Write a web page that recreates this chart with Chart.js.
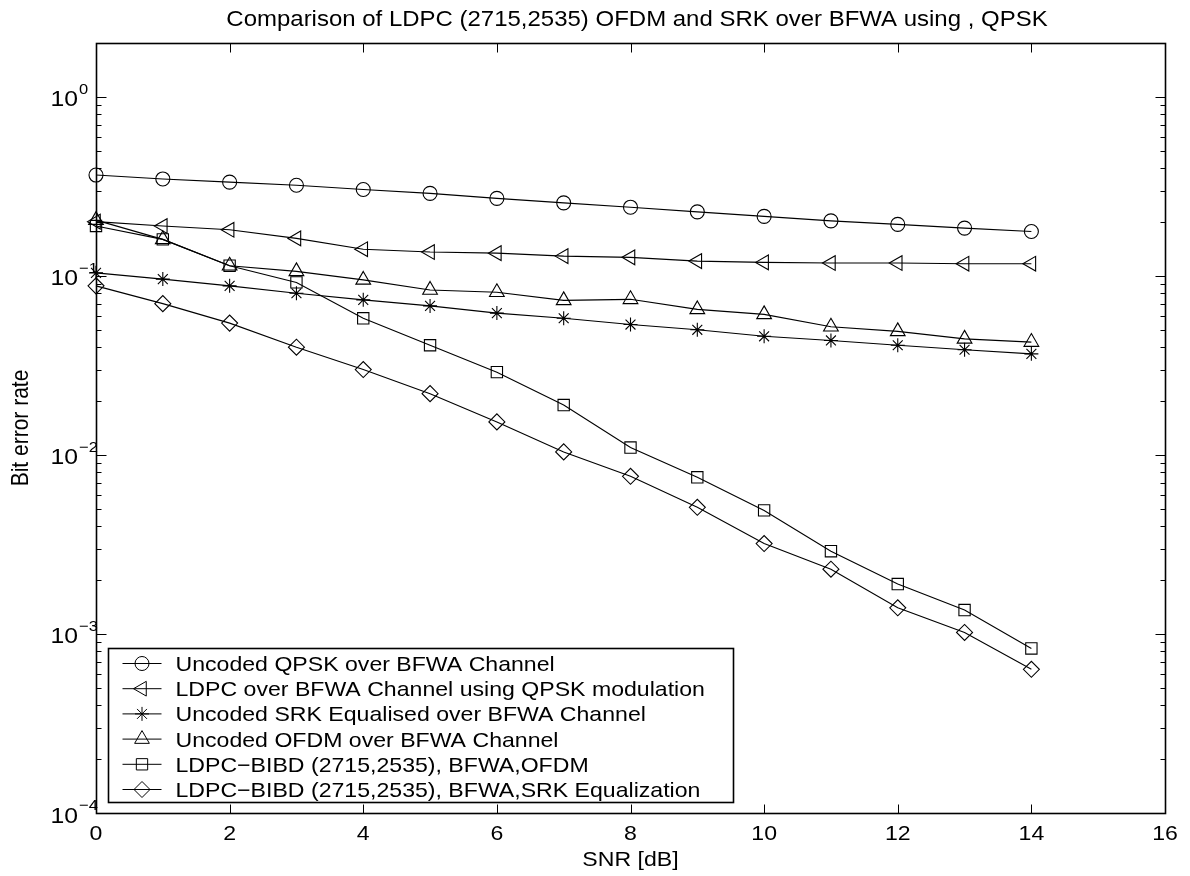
<!DOCTYPE html>
<html>
<head>
<meta charset="utf-8">
<title>Comparison of LDPC (2715,2535) OFDM and SRK over BFWA</title>
<script src="https://cdn.jsdelivr.net/npm/chart.js"></script>
<style>
    html, body { margin: 0; padding: 0; background: #fff; }
    canvas { display: block; }
</style>
</head>
<body>
<canvas id="myChart" width="1190" height="876"></canvas>
<script>
const snr = [0, 1, 2, 3, 4, 5, 6, 7, 8, 9, 10, 11, 12, 13, 14];

const uncoded_qpsk = [0.366, 0.348, 0.334, 0.321, 0.304, 0.289, 0.271, 0.256, 0.242, 0.228, 0.215, 0.203, 0.194, 0.185, 0.177];
const ldpc_qpsk = [0.201, 0.190, 0.181, 0.162, 0.141, 0.136, 0.134, 0.129, 0.127, 0.121, 0.119, 0.118, 0.118, 0.117, 0.117];
const uncoded_srk = [0.104, 0.096, 0.088, 0.080, 0.0735, 0.068, 0.062, 0.058, 0.0535, 0.050, 0.046, 0.0436, 0.041, 0.0387, 0.0367];
const uncoded_ofdm = [0.205, 0.160, 0.114, 0.106, 0.095, 0.0835, 0.081, 0.073, 0.074, 0.065, 0.061, 0.052, 0.049, 0.0445, 0.0427];
const ldpc_ofdm = [0.190, 0.160, 0.114, 0.092, 0.058, 0.041, 0.029, 0.019, 0.011, 0.0075, 0.0049, 0.0029, 0.0019, 0.00136, 0.00083];
const ldpc_srk = [0.088, 0.070, 0.0545, 0.040, 0.030, 0.022, 0.0153, 0.0104, 0.0076, 0.0051, 0.0032, 0.0023, 0.0014, 0.00102, 0.000635];

const series_labels = [
    'Uncoded QPSK over BFWA Channel',
    'LDPC over BFWA Channel using QPSK modulation',
    'Uncoded SRK Equalised over BFWA Channel',
    'Uncoded OFDM over BFWA Channel',
    'LDPC\u2212BIBD (2715,2535), BFWA,OFDM',
    'LDPC\u2212BIBD (2715,2535), BFWA,SRK Equalization'
];

const x_ticks = [0, 2, 4, 6, 8, 10, 12, 14, 16];
const y_ticks = [1e-4, 1e-3, 1e-2, 1e-1, 1];
const y_tick_exponents = ['\u22124', '\u22123', '\u22122', '\u22121', '0'];

const chart_title = 'Comparison of LDPC (2715,2535) OFDM and SRK over BFWA using , QPSK';
const x_title = 'SNR [dB]';
const y_title = 'Bit error rate';

const FONT = '"Liberation Sans", Arial, Helvetica, sans-serif';
const STRETCH = 1.1;

// text is drawn a little wider than tall, like the reference picture
function drawText(ctx, text, x, y, size, align, rotated) {
    ctx.save();
    ctx.translate(x, y);
    ctx.scale(STRETCH, 1);
    if (rotated) ctx.rotate(-Math.PI / 2);
    ctx.font = `${size}px ${FONT}`;
    ctx.textAlign = align;
    ctx.textBaseline = 'alphabetic';
    ctx.fillStyle = '#000';
    ctx.fillText(text, 0, 0);
    ctx.restore();
}

function textWidth(ctx, text, size) {
    ctx.save();
    ctx.font = `${size}px ${FONT}`;
    const w = ctx.measureText(text).width * STRETCH;
    ctx.restore();
    return w;
}

function drawMarker(ctx, ds, x, y) {
    ctx.save();
    ctx.strokeStyle = '#000';
    ctx.fillStyle = 'rgba(0,0,0,0)';
    ctx.lineWidth = 1;
    Chart.helpers.drawPoint(ctx, {
        pointStyle: ds.pointStyle,
        rotation: ds.pointRotation || 0,
        radius: ds.pointRadius,
        borderWidth: 1
    }, x, y);
    ctx.restore();
}

const matlabAxes = {
    id: 'matlabAxes',
    afterDatasetsDraw(chart) {
        const ctx = chart.ctx;
        const area = chart.chartArea;
        const xs = chart.scales.x;
        const ys = chart.scales.y;
        const L = Math.round(area.left) + 0.5;
        const R = Math.round(area.right) + 0.5;
        const T = Math.round(area.top) + 0.5;
        const B = Math.round(area.bottom) + 0.5;

        ctx.save();
        ctx.strokeStyle = '#000';

        // ticks pointing inwards
        ctx.lineWidth = 1;
        ctx.beginPath();
        x_ticks.forEach((v) => {
            const px = Math.round(xs.getPixelForValue(v)) + 0.5;
            ctx.moveTo(px, B); ctx.lineTo(px, B - 9);
            ctx.moveTo(px, T); ctx.lineTo(px, T + 9);
        });
        for (let d = -4; d <= 0; d++) {
            for (let k = 1; k <= 9; k++) {
                const v = k * Math.pow(10, d);
                if (v > ys.max || v < ys.min) continue;
                const py = Math.round(ys.getPixelForValue(v)) + 0.5;
                const len = k == 1 ? 10 : 5;
                ctx.moveTo(L, py); ctx.lineTo(L + len, py);
                ctx.moveTo(R, py); ctx.lineTo(R - len, py);
            }
        }
        ctx.stroke();

        ctx.lineWidth = 1.6;
        ctx.strokeRect(L, T, R - L, B - T);

        x_ticks.forEach((v) => {
            drawText(ctx, String(v), xs.getPixelForValue(v), area.bottom + 27, 21, 'center');
        });
        y_ticks.forEach((v, i) => {
            const py = ys.getPixelForValue(v);
            drawText(ctx, '10', area.left - 18, py + 9.5, 22.5, 'right');
            drawText(ctx, y_tick_exponents[i], area.left - 17, py - 3, 15, 'left');
        });

        drawText(ctx, chart_title, 637, 26, 21.8, 'center');
        drawText(ctx, x_title, (area.left + area.right) / 2, area.bottom + 53, 21, 'center');
        drawText(ctx, y_title, 28, (area.top + area.bottom) / 2, 21, 'center', true);

        // legend box in the lower left corner
        const datasets = chart.data.datasets;
        const row = 25.2;
        const box_left = Math.round(area.left + 12) + 0.5;
        const box_bottom = Math.round(area.bottom - 11) + 0.5;
        const box_top = Math.round(box_bottom - datasets.length * row - 3) + 0.5;
        const text_x = box_left + 67;
        let max_w = 0;
        datasets.forEach((ds) => { max_w = Math.max(max_w, textWidth(ctx, ds.label, 21)); });
        const box_right = Math.round(text_x + max_w + 28) + 0.5;

        ctx.fillStyle = '#fff';
        ctx.fillRect(box_left, box_top, box_right - box_left, box_bottom - box_top);
        ctx.lineWidth = 1.6;
        ctx.strokeRect(box_left, box_top, box_right - box_left, box_bottom - box_top);

        datasets.forEach((ds, i) => {
            const cy = box_top + 15 + i * row;
            ctx.lineWidth = 1;
            ctx.beginPath();
            ctx.moveTo(box_left + 14, cy);
            ctx.lineTo(box_left + 53, cy);
            ctx.stroke();
            drawMarker(ctx, ds, box_left + 33.5, cy);
            drawText(ctx, ds.label, text_x, cy + 7.5, 21, 'left');
        });

        ctx.restore();
    }
};

function makeSeries(label, values, style, radius, rotation) {
    return {
        label: label,
        data: snr.map((x, i) => ({ x: x, y: values[i] })),
        borderColor: '#000',
        borderWidth: 1.1,
        pointStyle: style,
        pointRadius: radius,
        pointRotation: rotation || 0,
        pointBorderColor: '#000',
        pointBackgroundColor: 'rgba(0,0,0,0)',
        pointBorderWidth: 1.1,
        pointHoverRadius: radius,
        fill: false,
        tension: 0,
        clip: false
    };
}

const ctx = document.getElementById('myChart').getContext('2d');

const myChart = new Chart(ctx, {
    type: 'line',
    data: {
        datasets: [
            makeSeries(series_labels[0], uncoded_qpsk, 'circle', 7),
            makeSeries(series_labels[1], ldpc_qpsk, 'triangle', 8.5, -90),
            makeSeries(series_labels[2], uncoded_srk, 'star', 7),
            makeSeries(series_labels[3], uncoded_ofdm, 'triangle', 8.5),
            makeSeries(series_labels[4], ldpc_ofdm, 'rect', 8),
            makeSeries(series_labels[5], ldpc_srk, 'rectRot', 8)
        ]
    },
    options: {
        responsive: false,
        animation: false,
        events: [],
        layout: {
            padding: { left: 96, right: 25, top: 43, bottom: 63 }
        },
        plugins: {
            legend: { display: false },
            title: { display: false },
            tooltip: { enabled: false }
        },
        scales: {
            x: {
                type: 'linear',
                min: 0,
                max: 16,
                display: false
            },
            y: {
                type: 'logarithmic',
                min: 1e-4,
                max: 2,
                display: false
            }
        }
    },
    plugins: [matlabAxes]
});
</script>
</body>
</html>
